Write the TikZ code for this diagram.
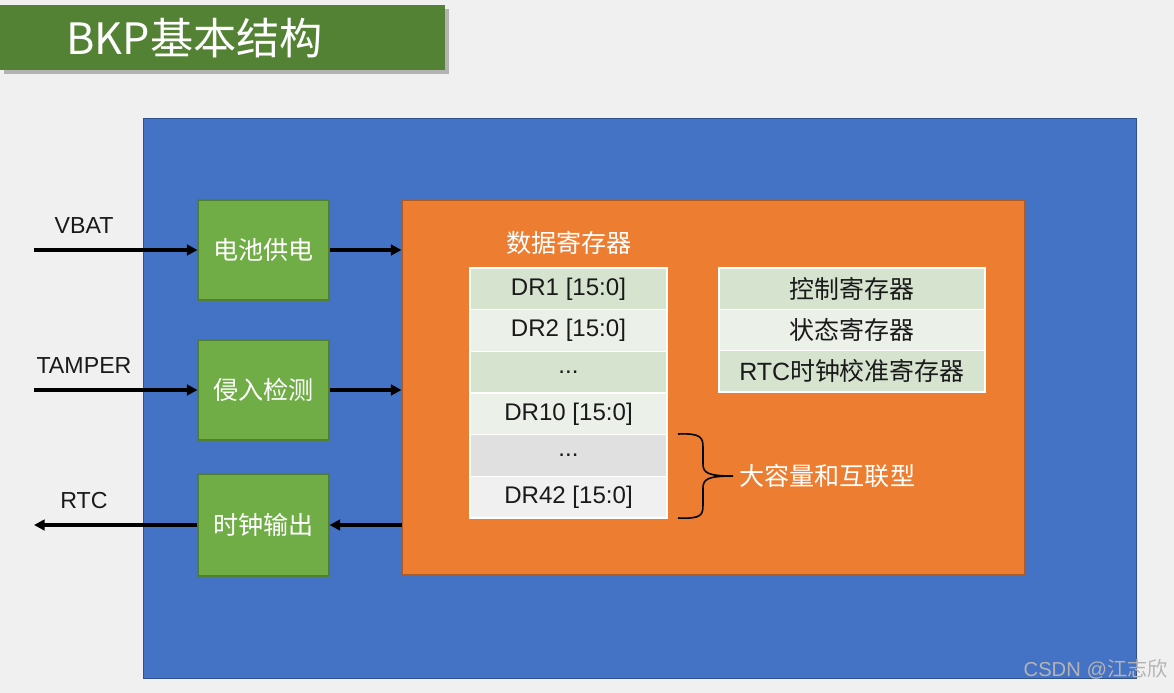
\documentclass[tikz,border=0pt]{standalone}
\usepackage{fontspec}
\setmainfont{Liberation Sans}
\newfontfamily\cjk{Noto Sans CJK SC}
\usetikzlibrary{arrows.meta}
\definecolor{bgc}{HTML}{F0F0F0}
\definecolor{titlegreen}{HTML}{548235}
\definecolor{blueb}{HTML}{4472C4}
\definecolor{bluebd}{HTML}{2F528F}
\definecolor{greenb}{HTML}{70AD47}
\definecolor{greenbd}{HTML}{507E32}
\definecolor{orangeb}{HTML}{ED7D31}
\definecolor{orangebd}{HTML}{AE5A21}
\definecolor{rowA}{HTML}{D6E3CF}
\definecolor{rowB}{HTML}{EBF0E8}
\definecolor{rowC}{HTML}{E0E0E0}
\definecolor{rowD}{HTML}{F0F0F0}
\definecolor{txt}{HTML}{1A1A1A}
\definecolor{wm}{HTML}{B4B4B4}
\begin{document}
\begin{tikzpicture}[x=0.02cm,y=-0.02cm,
  box/.style={draw=greenbd,line width=0.6pt,fill=greenb,inner sep=0pt,minimum width=2.62cm,minimum height=2cm,text=white,font=\cjk\fontsize{14.3}{16}\selectfont},
  regrow/.style={draw=white,line width=0.7pt,inner sep=0pt,minimum width=3.94cm,minimum height=0.8334cm,text=txt,font=\fontsize{13.7}{15}\selectfont},
  ctlrow/.style={draw=white,line width=0.7pt,inner sep=0pt,minimum width=5.32cm,minimum height=0.8266cm,text=txt,font=\cjk\fontsize{14.2}{15}\selectfont},
  sig/.style={line width=2pt,-{Triangle[length=6pt,width=6pt]}},
  lbl/.style={text=txt,font=\fontsize{13.2}{15}\selectfont},
  wtxt/.style={text=white,font=\cjk\fontsize{14.3}{16}\selectfont}]
\fill[bgc] (0,0) rectangle (1174,693);
\useasboundingbox (0,0) rectangle (1174,693);
% title
\fill[black!30] (4,9) rectangle (449,74);
\node[fill=titlegreen,inner sep=0pt,minimum width=8.9cm,minimum height=1.3cm] (title) at (222.5,37.5) {};
\node[anchor=west,text=white,inner sep=0pt,font=\cjk\fontsize{24.6}{28}\selectfont] (titletext) at (66,38) {BKP基本结构};
% blue and orange
\node[draw=bluebd,line width=0.6pt,fill=blueb,inner sep=0pt,minimum width=19.88cm,minimum height=11.22cm] (blue) at (640,398.5) {};
\node[draw=orangebd,line width=0.6pt,fill=orangeb,inner sep=0pt,minimum width=12.46cm,minimum height=7.5cm] (orange) at (713.5,387.5) {};
% green boxes
\node[box] (bat) at (263.5,250) {电池供电};
\node[box] (tamp) at (263.5,390) {侵入检测};
\node[box,minimum height=2.04cm] (clk) at (263.5,525) {时钟输出};
% signal ends
\coordinate (vin) at (34,250);
\coordinate (tin) at (34,390);
\coordinate (rout) at (34,525);
\node[lbl] (vbatl) at (84,226) {VBAT};
\node[lbl] (tampl) at (84,366) {TAMPER};
\node[lbl] (rtcl) at (84,501) {RTC};
\draw[sig] (vin) -- (bat.west);
\draw[sig] (tin) -- (tamp.west);
\draw[sig] (clk.west) -- (rout);
\draw[sig] (bat.east) -- (orange.west |- bat.east);
\draw[sig] (tamp.east) -- (orange.west |- tamp.east);
\draw[sig] (orange.west |- clk.east) -- (clk.east);
% data registers
\node[wtxt] (dtitle) at (569,243) {数据寄存器};
\node[regrow,fill=rowA] (r1) at (568.5,288.8) {DR1 [15:0]};
\node[regrow,fill=rowB] (r2) at (568.5,330.5) {DR2 [15:0]};
\node[regrow,fill=rowA] (r3) at (568.5,372.2) {...};
\node[regrow,fill=rowB] (r4) at (568.5,413.8) {DR10 [15:0]};
\node[regrow,fill=rowC] (r5) at (568.5,455.5) {...};
\node[regrow,fill=rowD] (r6) at (568.5,497.2) {DR42 [15:0]};
% control registers
\node[ctlrow,fill=rowA] (c1) at (852,288.7) {控制寄存器};
\node[ctlrow,fill=rowB] (c2) at (852,330) {状态寄存器};
\node[ctlrow,fill=rowA] (c3) at (852,371.3) {\fontspec{Liberation Sans}RTC\cjk 时钟校准寄存器};
% brace
\draw[line width=0.9pt,black] (678,434) .. controls (702,433) and (703,438) .. (703,448) -- (703,464)
  .. controls (703,473) and (708,476) .. (733,476)
  .. controls (708,476) and (703,479) .. (703,488) -- (703,504)
  .. controls (703,515) and (702,519) .. (678,518);
\node[wtxt,anchor=west,inner sep=0pt] (big) at (739,476) {大容量和互联型};
% watermark
\node[anchor=east,text=wm,inner sep=0pt,font=\fontsize{11.5}{13}\selectfont] (mark) at (1168,669) {CSDN @{\cjk 江志欣}};
\end{tikzpicture}
\end{document}
